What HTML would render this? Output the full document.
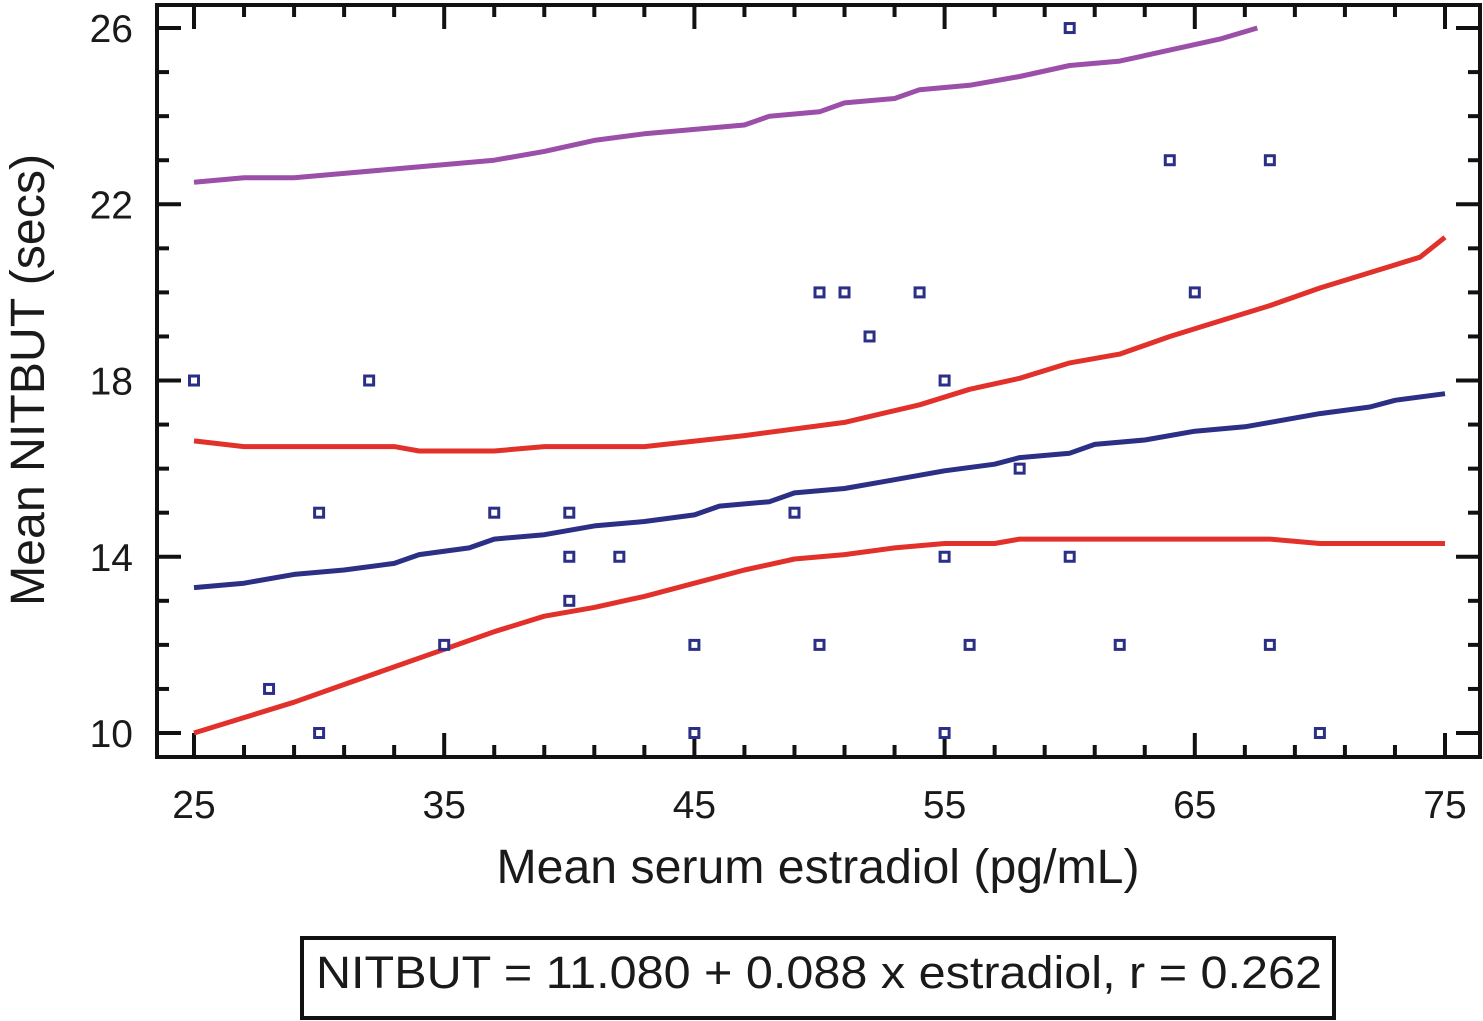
<!DOCTYPE html>
<html><head><meta charset="utf-8"><style>
html,body{margin:0;padding:0;background:#fff;}
svg{display:block;font-family:"Liberation Sans",Arial,sans-serif;}
</style></head><body>
<svg id="chart" width="1483" height="1021" viewBox="0 0 1483 1021">
<g id="axes"></g>
<g id="series"></g>
<g id="pts"></g>
<text x="818" y="883" font-size="48" text-anchor="middle" textLength="643" lengthAdjust="spacingAndGlyphs" fill="#1a1a1a">Mean serum estradiol (pg/mL)</text>
<text transform="translate(44,380) rotate(-90)" font-size="48" text-anchor="middle" textLength="452" lengthAdjust="spacingAndGlyphs" fill="#1a1a1a">Mean NITBUT (secs)</text>
<rect x="302" y="938" width="1032" height="80" fill="none" stroke="#111" stroke-width="4"/>
<text x="316" y="988" font-size="45" textLength="1006" lengthAdjust="spacingAndGlyphs" fill="#1a1a1a">NITBUT = 11.080 + 0.088 x estradiol, r = 0.262</text>
</svg>
<script>
const xTicks=[25,35,45,55,65,75];
const yTicks=[10,14,18,22,26];
const ptX=[25,28,30,30,32,35,37,40,40,40,42,45,45,49,50,50,51,52,54,55,55,55,56,58,60,60,62,64,65,68,68,70];
const ptY=[18,11,15,10,18,12,15,15,14,13,14,12,10,15,20,12,20,19,20,18,14,10,12,16,26,14,12,23,20,23,12,10];
const blueX=[25,27,29,31,33,34,36,37,39,41,43,45,46,48,49,51,53,55,57,58,60,61,63,65,67,68,70,72,73,75];
const blueY=[13.3,13.4,13.6,13.7,13.85,14.05,14.2,14.4,14.5,14.7,14.8,14.95,15.15,15.25,15.45,15.55,15.75,15.95,16.1,16.25,16.35,16.55,16.65,16.85,16.95,17.05,17.25,17.4,17.55,17.7];
const redUpX=[25,27,33,34,37,39,43,47,51,54,56,58,60,62,64,66,68,70,72,74,75];
const redUpY=[16.63,16.5,16.5,16.4,16.4,16.5,16.5,16.75,17.05,17.45,17.8,18.05,18.4,18.6,19.0,19.35,19.7,20.1,20.45,20.8,21.25];
const redLoX=[25,27,29,31,33,35,37,39,41,43,45,47,49,51,53,55,57,58,68,70,75];
const redLoY=[10,10.35,10.7,11.1,11.5,11.9,12.3,12.65,12.85,13.1,13.4,13.7,13.95,14.05,14.2,14.3,14.3,14.4,14.4,14.3,14.3];
const purX=[25,27,29,31,33,35,37,39,41,43,45,47,48,50,51,53,54,56,58,60,62,64,66,67.5];
const purY=[22.5,22.6,22.6,22.7,22.8,22.9,23.0,23.2,23.45,23.6,23.7,23.8,24.0,24.1,24.3,24.4,24.6,24.7,24.9,25.15,25.25,25.5,25.75,26];

const sx=v=>194+(v-25)*25.02;
const sy=v=>733-(v-10)*44.06;
const NS='http://www.w3.org/2000/svg';
function mk(tag,attrs,parent){const e=document.createElementNS(NS,tag);for(const k in attrs)e.setAttribute(k,attrs[k]);parent.appendChild(e);return e;}
const axes=document.getElementById('axes');
const L=157,R=1480,T=5,B=757;
const frame=mk('rect',{x:L,y:T,width:R-L,height:B-T,fill:'none',stroke:'#111','stroke-width':4},axes);


for(let v=10;v<=26;v++){
  const maj=(v-10)%4===0, len=maj?24:12, y=sy(v);
  const t1=mk('line',{x1:L,x2:L+len,y1:y,y2:y,stroke:'#111','stroke-width':4},axes);
  
  
  const t2=mk('line',{x1:R,x2:R-len,y1:y,y2:y,stroke:'#111','stroke-width':4},axes);
  
  
}
for(let v=25;v<=75;v+=2){
  const maj=(v-25)%10===0, len=maj?24:12, x=sx(v);
  const t1=mk('line',{x1:x,x2:x,y1:B,y2:B-len,stroke:'#111','stroke-width':4},axes);
  
  
  const t2=mk('line',{x1:x,x2:x,y1:T,y2:T+len,stroke:'#111','stroke-width':4},axes);
  
  
}
yTicks.forEach(v=>{
  const t=mk('text',{x:133,y:sy(v)+14,'font-size':39,'text-anchor':'end',fill:'#1a1a1a'},axes);
  t.textContent=v;
  
  
});
xTicks.forEach(v=>{
  const t=mk('text',{x:sx(v),y:818,'font-size':39,'text-anchor':'middle',fill:'#1a1a1a'},axes);
  t.textContent=v;
  
  
});
const ser=document.getElementById('series');
function line(xs,ys,color,name){
  const d=xs.map((x,i)=>(i?'L':'M')+sx(x).toFixed(1)+','+sy(ys[i]).toFixed(1)).join(' ');
  const p=mk('path',{d:d,fill:'none',stroke:color,'stroke-width':5,'stroke-linejoin':'round'},ser);
  
  
}
line(purX,purY,'#9b4fa8','purple-line');
line(redUpX,redUpY,'#e2312a','upper-confidence-line');
line(redLoX,redLoY,'#e2312a','lower-confidence-line');
line(blueX,blueY,'#2b2f86','regression-line');
const pts=document.getElementById('pts');
ptX.forEach((x,i)=>{
  const r=mk('rect',{x:sx(x)-4.5,y:sy(ptY[i])-4.5,width:9,height:9,fill:'#fff',stroke:'#2b2f86','stroke-width':3},pts);
  
  
});
</script>
</body></html>
